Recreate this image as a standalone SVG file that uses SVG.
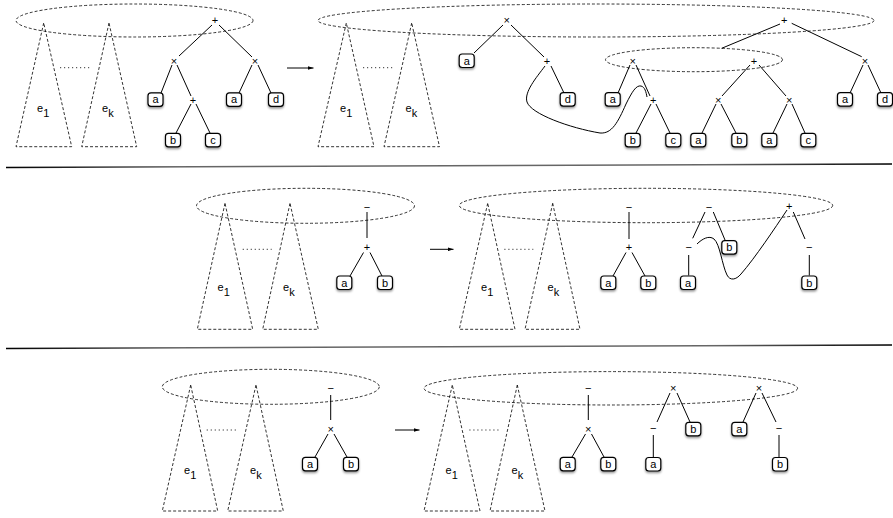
<svg xmlns="http://www.w3.org/2000/svg" width="893" height="518" viewBox="0 0 893 518">
<style>
.ell,.tri{fill:none;stroke:#000;stroke-width:0.8;stroke-dasharray:3 2}
.dot{fill:none;stroke:#000;stroke-width:0.8;stroke-dasharray:1.2 2.8}
.edge{fill:none;stroke:#000;stroke-width:1}
.leaf rect{fill:#fff;stroke:#000;stroke-width:1.2}
.leaf text,.op text{font-family:"Liberation Sans",Arial,sans-serif;font-size:11px;text-anchor:middle;fill:#000}
.lbl{font-family:"Liberation Sans",Arial,sans-serif;font-size:11px;fill:#000}
.sep{stroke-width:1.3}
</style>
<defs>
<filter id="sh" x="-50%" y="-50%" width="200%" height="200%">
<feDropShadow dx="0" dy="1.5" stdDeviation="1" flood-color="#000" flood-opacity="0.45"/>
</filter>
<marker id="ah" viewBox="0 0 6 4" refX="6" refY="2" markerWidth="6" markerHeight="4" orient="auto" markerUnits="userSpaceOnUse">
<path d="M0,0 L6,2 L0,4 z" fill="#000"/>
</marker>
<linearGradient id="g1" gradientUnits="userSpaceOnUse" x1="6" y1="0" x2="892" y2="0">
<stop offset="0" stop-color="#000"/><stop offset="0.2" stop-color="#666"/><stop offset="0.8" stop-color="#666"/><stop offset="1" stop-color="#000"/>
</linearGradient>
</defs>

<g id="separators">
<line class="sep" x1="6" y1="167.5" x2="892" y2="164" stroke="url(#g1)"/>
<line class="sep" x1="6" y1="348.5" x2="892" y2="345" stroke="url(#g1)"/>
</g>

<g id="context-shapes">
<ellipse class="ell" cx="134.5" cy="20.5" rx="118.5" ry="16.5"/>
<polygon class="tri" points="43.7,23 16,146.7 71.7,146.7"/>
<polygon class="tri" points="109,23 81.7,146.7 136.7,146.7"/>
<line class="dot" x1="60" y1="67.7" x2="91" y2="67.7"/>
<text class="lbl" x="37" y="111.5">e<tspan dy="5">1</tspan></text>
<text class="lbl" x="102" y="111.5">e<tspan dy="5">k</tspan></text>

<ellipse class="ell" cx="596" cy="20.5" rx="278" ry="16.5"/>
<ellipse class="ell" cx="694" cy="59.7" rx="88.5" ry="12"/>
<polygon class="tri" points="346.3,23 318,146.7 374,146.7"/>
<polygon class="tri" points="411.7,23 384,146.7 439.5,146.7"/>
<line class="dot" x1="363" y1="67.7" x2="393" y2="67.7"/>
<text class="lbl" x="340" y="111.5">e<tspan dy="5">1</tspan></text>
<text class="lbl" x="405.5" y="111.5">e<tspan dy="5">k</tspan></text>

<ellipse class="ell" cx="305.5" cy="205.8" rx="109" ry="17.5"/>
<polygon class="tri" points="225,203.3 197.3,329.3 252.7,329.3"/>
<polygon class="tri" points="290,203.3 262.7,329.3 318.3,329.3"/>
<line class="dot" x1="242.7" y1="249.3" x2="271.7" y2="249.3"/>
<text class="lbl" x="217.5" y="291">e<tspan dy="5">1</tspan></text>
<text class="lbl" x="283" y="291">e<tspan dy="5">k</tspan></text>

<ellipse class="ell" cx="646" cy="205.5" rx="186.7" ry="17.2"/>
<polygon class="tri" points="487.7,203.3 459.3,329.3 515,329.3"/>
<polygon class="tri" points="552.7,203.3 525,329.3 580,329.3"/>
<line class="dot" x1="504.3" y1="249.3" x2="533.3" y2="249.3"/>
<text class="lbl" x="481" y="291">e<tspan dy="5">1</tspan></text>
<text class="lbl" x="547.5" y="291">e<tspan dy="5">k</tspan></text>

<ellipse class="ell" cx="270.8" cy="386.8" rx="108.5" ry="17.5"/>
<polygon class="tri" points="190.7,385 162.3,511 217.7,511"/>
<polygon class="tri" points="256,385 227.7,511 283.3,511"/>
<line class="dot" x1="206.7" y1="430" x2="237.3" y2="430"/>
<text class="lbl" x="184" y="473.5">e<tspan dy="5">1</tspan></text>
<text class="lbl" x="250" y="473.5">e<tspan dy="5">k</tspan></text>

<ellipse class="ell" cx="610.8" cy="388.3" rx="186.8" ry="16.7"/>
<polygon class="tri" points="452.3,385 424,511 480,511"/>
<polygon class="tri" points="517.3,385 490,511 545,511"/>
<line class="dot" x1="469.3" y1="430" x2="499.3" y2="430"/>
<text class="lbl" x="445.5" y="473.5">e<tspan dy="5">1</tspan></text>
<text class="lbl" x="511.5" y="473.5">e<tspan dy="5">k</tspan></text>
</g>

<g id="connectors">
<line class="edge" x1="287" y1="68" x2="313.5" y2="68" marker-end="url(#ah)"/>
<line class="edge" x1="430" y1="249.3" x2="453.5" y2="249.3" marker-end="url(#ah)"/>
<line class="edge" x1="395" y1="430" x2="419.5" y2="430" marker-end="url(#ah)"/>
<line class="edge" x1="212" y1="25" x2="179" y2="56"/>
<line class="edge" x1="219" y1="25" x2="252" y2="57"/>
<line class="edge" x1="172" y1="65" x2="161" y2="93"/>
<line class="edge" x1="177" y1="65" x2="191" y2="96"/>
<line class="edge" x1="191" y1="104" x2="176" y2="133"/>
<line class="edge" x1="196" y1="104" x2="210" y2="133"/>
<line class="edge" x1="252" y1="65" x2="239" y2="93"/>
<line class="edge" x1="258" y1="65" x2="271" y2="93"/>
<line class="edge" x1="503" y1="25" x2="474" y2="53"/>
<line class="edge" x1="511" y1="25" x2="544" y2="57"/>
<line class="edge" x1="551" y1="66" x2="564" y2="93"/>
<path class="edge" d="M545,66 C536,78 524,92 527,102 C531,114 570,128 600,133 C612,134 618,122 626,104 C632,92 636,85 641,86 C645,87 646,92 647,97"/>
<line class="edge" x1="780" y1="24" x2="721.7" y2="48.3"/>
<line class="edge" x1="791.7" y1="23.3" x2="861.7" y2="56.7"/>
<line class="edge" x1="630" y1="65" x2="618" y2="93"/>
<line class="edge" x1="636" y1="65" x2="650" y2="96"/>
<line class="edge" x1="651" y1="104" x2="636" y2="133"/>
<line class="edge" x1="656" y1="104" x2="670" y2="133"/>
<line class="edge" x1="750" y1="65" x2="722" y2="96"/>
<line class="edge" x1="759" y1="65" x2="786" y2="96"/>
<line class="edge" x1="716" y1="104" x2="702" y2="133"/>
<line class="edge" x1="721" y1="104" x2="736" y2="133"/>
<line class="edge" x1="787" y1="104" x2="773" y2="133"/>
<line class="edge" x1="792" y1="104" x2="805" y2="133"/>
<line class="edge" x1="863" y1="65" x2="850" y2="93"/>
<line class="edge" x1="868" y1="65" x2="881" y2="93"/>
<line class="edge" x1="367" y1="212" x2="367" y2="238"/>
<line class="edge" x1="363.5" y1="252.5" x2="350" y2="276"/>
<line class="edge" x1="370" y1="252.5" x2="382" y2="276"/>
<line class="edge" x1="629" y1="212" x2="629" y2="239"/>
<line class="edge" x1="626" y1="252.5" x2="613" y2="276"/>
<line class="edge" x1="632" y1="252.5" x2="645" y2="276"/>
<line class="edge" x1="705" y1="212" x2="692.7" y2="238.3"/>
<line class="edge" x1="713.3" y1="212" x2="725" y2="240"/>
<line class="edge" x1="688.7" y1="255" x2="688.7" y2="275.5"/>
<path class="edge" d="M697,244 C702,239 709,235 714,239 C720,244 722,265 727,275 C730,281 736,280 741,274 C755,258 775,228 787,210"/>
<line class="edge" x1="793.3" y1="212" x2="805" y2="239"/>
<line class="edge" x1="809.3" y1="255" x2="809.3" y2="275.5"/>
<line class="edge" x1="330.7" y1="395" x2="330.7" y2="420"/>
<line class="edge" x1="328" y1="434" x2="315" y2="457"/>
<line class="edge" x1="334" y1="434" x2="347" y2="457"/>
<line class="edge" x1="588.3" y1="395" x2="588.3" y2="420"/>
<line class="edge" x1="585.5" y1="434" x2="572" y2="457"/>
<line class="edge" x1="591.5" y1="434" x2="604" y2="457"/>
<line class="edge" x1="670" y1="393" x2="657" y2="422"/>
<line class="edge" x1="677" y1="393" x2="690" y2="422"/>
<line class="edge" x1="653.3" y1="435" x2="653.3" y2="457"/>
<line class="edge" x1="756" y1="393" x2="743" y2="422"/>
<line class="edge" x1="762" y1="393" x2="776" y2="422"/>
<line class="edge" x1="779" y1="435" x2="779" y2="457"/>
</g>

<g id="p1l-plus" class="op"><text x="215" y="24">+</text></g>
<g id="p1l-times1" class="op"><text x="174" y="65">×</text></g>
<g id="p1l-times2" class="op"><text x="255" y="65">×</text></g>
<g id="p1l-plus2" class="op"><text x="193" y="104">+</text></g>
<g id="p1r-times" class="op"><text x="506.7" y="24">×</text></g>
<g id="p1r-plus" class="op"><text x="547" y="65">+</text></g>
<g id="p1r-plus-top" class="op"><text x="784.3" y="24">+</text></g>
<g id="p1r-times2" class="op"><text x="632.7" y="65">×</text></g>
<g id="p1r-plus2" class="op"><text x="754" y="65">+</text></g>
<g id="p1r-times3" class="op"><text x="865" y="65">×</text></g>
<g id="p1r-plus3" class="op"><text x="653.3" y="104">+</text></g>
<g id="p1r-times4" class="op"><text x="718.3" y="104">×</text></g>
<g id="p1r-times5" class="op"><text x="789.3" y="104">×</text></g>

<g id="p2l-minus" class="op"><text x="367" y="210.5">−</text></g>
<g id="p2l-plus" class="op"><text x="367" y="251.3">+</text></g>
<g id="p2r-minus1" class="op"><text x="629" y="210.5">−</text></g>
<g id="p2r-plus1" class="op"><text x="629" y="251.3">+</text></g>
<g id="p2r-minus2" class="op"><text x="709" y="210.5">−</text></g>
<g id="p2r-minus3" class="op"><text x="688.7" y="250.5">−</text></g>
<g id="p2r-plus2" class="op"><text x="789.3" y="210">+</text></g>
<g id="p2r-minus4" class="op"><text x="809.3" y="250.5">−</text></g>

<g id="p3l-minus" class="op"><text x="330.7" y="391.5">−</text></g>
<g id="p3l-times" class="op"><text x="330.7" y="433.3">×</text></g>
<g id="p3r-minus1" class="op"><text x="588.3" y="391.5">−</text></g>
<g id="p3r-times1" class="op"><text x="588.3" y="433.3">×</text></g>
<g id="p3r-times2" class="op"><text x="673.3" y="392.3">×</text></g>
<g id="p3r-minus2" class="op"><text x="653.3" y="432">−</text></g>
<g id="p3r-times3" class="op"><text x="759" y="392.3">×</text></g>
<g id="p3r-minus3" class="op"><text x="779" y="432">−</text></g>

<g id="p1l-a1" class="leaf"><rect x="148" y="92.8" width="15" height="13.5" rx="3" filter="url(#sh)"/><text x="155.5" y="103.3">a</text></g>
<g id="p1l-a2" class="leaf"><rect x="226.5" y="92.8" width="15" height="13.5" rx="3" filter="url(#sh)"/><text x="234" y="103.3">a</text></g>
<g id="p1l-d" class="leaf"><rect x="268.5" y="92.8" width="15" height="13.5" rx="3" filter="url(#sh)"/><text x="276" y="103.3">d</text></g>
<g id="p1l-b" class="leaf"><rect x="165.5" y="133.3" width="15" height="13.5" rx="3" filter="url(#sh)"/><text x="173" y="143.8">b</text></g>
<g id="p1l-c" class="leaf"><rect x="205.5" y="133.3" width="15" height="13.5" rx="3" filter="url(#sh)"/><text x="213" y="143.8">c</text></g>

<g id="p1r-a1" class="leaf"><rect x="459.2" y="54" width="15" height="13.5" rx="3" filter="url(#sh)"/><text x="466.7" y="64.5">a</text></g>
<g id="p1r-d1" class="leaf"><rect x="560.2" y="92.6" width="15" height="13.5" rx="3" filter="url(#sh)"/><text x="567.7" y="103.1">d</text></g>
<g id="p1r-a2" class="leaf"><rect x="605.2" y="92.6" width="15" height="13.5" rx="3" filter="url(#sh)"/><text x="612.7" y="103.1">a</text></g>
<g id="p1r-b1" class="leaf"><rect x="625.2" y="133.3" width="15" height="13.5" rx="3" filter="url(#sh)"/><text x="632.7" y="143.8">b</text></g>
<g id="p1r-c1" class="leaf"><rect x="665.8" y="133.3" width="15" height="13.5" rx="3" filter="url(#sh)"/><text x="673.3" y="143.8">c</text></g>
<g id="p1r-a3" class="leaf"><rect x="690.8" y="133.3" width="15" height="13.5" rx="3" filter="url(#sh)"/><text x="698.3" y="143.8">a</text></g>
<g id="p1r-b2" class="leaf"><rect x="731.8" y="133.3" width="15" height="13.5" rx="3" filter="url(#sh)"/><text x="739.3" y="143.8">b</text></g>
<g id="p1r-a4" class="leaf"><rect x="761.8" y="133.3" width="15" height="13.5" rx="3" filter="url(#sh)"/><text x="769.3" y="143.8">a</text></g>
<g id="p1r-c2" class="leaf"><rect x="800.8" y="133.3" width="15" height="13.5" rx="3" filter="url(#sh)"/><text x="808.3" y="143.8">c</text></g>
<g id="p1r-a5" class="leaf"><rect x="837.5" y="92.6" width="15" height="13.5" rx="3" filter="url(#sh)"/><text x="845" y="103.1">a</text></g>
<g id="p1r-d2" class="leaf"><rect x="877.5" y="92.6" width="15" height="13.5" rx="3" filter="url(#sh)"/><text x="885" y="103.1">d</text></g>

<g id="p2l-a" class="leaf"><rect x="336.8" y="276" width="15" height="13.5" rx="3" filter="url(#sh)"/><text x="344.3" y="286.5">a</text></g>
<g id="p2l-b" class="leaf"><rect x="377.5" y="276" width="15" height="13.5" rx="3" filter="url(#sh)"/><text x="385" y="286.5">b</text></g>
<g id="p2r-a1" class="leaf"><rect x="600.8" y="276" width="15" height="13.5" rx="3" filter="url(#sh)"/><text x="608.3" y="286.5">a</text></g>
<g id="p2r-b1" class="leaf"><rect x="640.8" y="276" width="15" height="13.5" rx="3" filter="url(#sh)"/><text x="648.3" y="286.5">b</text></g>
<g id="p2r-a2" class="leaf"><rect x="680.5" y="276" width="15" height="13.5" rx="3" filter="url(#sh)"/><text x="688" y="286.5">a</text></g>
<g id="p2r-b2" class="leaf"><rect x="721.8" y="240.6" width="15" height="13.5" rx="3" filter="url(#sh)"/><text x="729.3" y="251.1">b</text></g>
<g id="p2r-b3" class="leaf"><rect x="801.8" y="276" width="15" height="13.5" rx="3" filter="url(#sh)"/><text x="809.3" y="286.5">b</text></g>

<g id="p3l-a" class="leaf"><rect x="302.5" y="457.3" width="15" height="13.5" rx="3" filter="url(#sh)"/><text x="310" y="467.8">a</text></g>
<g id="p3l-b" class="leaf"><rect x="343.5" y="457.3" width="15" height="13.5" rx="3" filter="url(#sh)"/><text x="351" y="467.8">b</text></g>
<g id="p3r-a1" class="leaf"><rect x="560.2" y="457.3" width="15" height="13.5" rx="3" filter="url(#sh)"/><text x="567.7" y="467.8">a</text></g>
<g id="p3r-b1" class="leaf"><rect x="600.8" y="457.3" width="15" height="13.5" rx="3" filter="url(#sh)"/><text x="608.3" y="467.8">b</text></g>
<g id="p3r-a2" class="leaf"><rect x="645.8" y="457.5" width="15" height="13.5" rx="3" filter="url(#sh)"/><text x="653.3" y="468">a</text></g>
<g id="p3r-b2" class="leaf"><rect x="685.8" y="422.3" width="15" height="13.5" rx="3" filter="url(#sh)"/><text x="693.3" y="432.8">b</text></g>
<g id="p3r-a3" class="leaf"><rect x="731.8" y="422.3" width="15" height="13.5" rx="3" filter="url(#sh)"/><text x="739.3" y="432.8">a</text></g>
<g id="p3r-b3" class="leaf"><rect x="772.5" y="457.5" width="15" height="13.5" rx="3" filter="url(#sh)"/><text x="780" y="468">b</text></g>
</svg>
